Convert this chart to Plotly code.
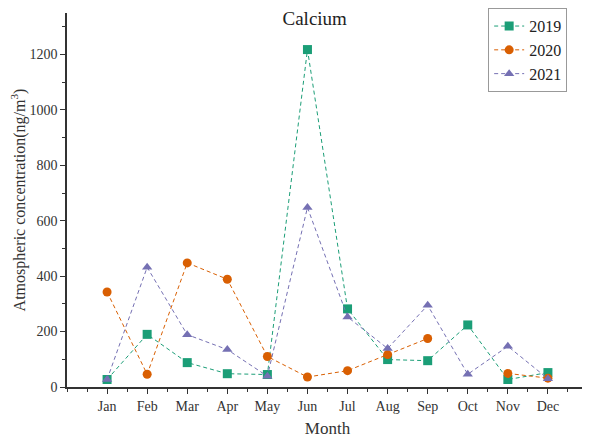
import plotly.graph_objects as go

months = ["Jan", "Feb", "Mar", "Apr", "May", "Jun", "Jul", "Aug", "Sep", "Oct", "Nov", "Dec"]
x_pos = list(range(1, 13))
y2019 = [27, 190, 88, 48, 45, 1218, 282, 99, 95, 224, 27, 52]
y2020 = [343, 46, 448, 389, 110, 36, 59, 117, 175, None, 49, 32]
y2021 = [27, 432, 189, 135, 39, 648, 253, 139, 295, 46, 147, 30]
y_ticks = [0, 200, 400, 600, 800, 1000, 1200]

series = [
    ("2019", y2019, "#1b9e77", "square"),
    ("2020", y2020, "#d95f02", "circle"),
    ("2021", y2021, "#7570b3", "triangle-up"),
]

fig = go.Figure()
for name, ys, col, sym in series:
    fig.add_trace(go.Scatter(
        x=x_pos, y=ys, name=name, mode="lines+markers",
        line=dict(color=col, width=1, dash="4px,3px"),
        marker=dict(symbol=sym, size=9, color=col),
        connectgaps=False,
    ))

font_family = "Liberation Serif"
fig.update_layout(
    width=582, height=434,
    margin=dict(l=59, r=2, t=5, b=55, autoexpand=False),
    paper_bgcolor="white", plot_bgcolor="white",
    font=dict(family=font_family, size=14, color="#333"),
    title=dict(text="Calcium", x=0.527, xanchor="center", y=0.977, yanchor="middle",
               font=dict(family=font_family, size=19, color="#222")),
    showlegend=True,
    legend=dict(x=0.96, xanchor="right", y=1.013, yanchor="top",
                bordercolor="#999", borderwidth=1, bgcolor="white",
                font=dict(family=font_family, size=16, color="#222"),
                itemwidth=30, tracegroupgap=0),
    xaxis=dict(
        range=[0, 13], tickmode="array", tickvals=x_pos, ticktext=months,
        showline=True, linecolor="#333", linewidth=1.5,
        ticks="outside", ticklen=5, tickwidth=1, tickcolor="#333",
        minor=dict(ticks="outside", ticklen=3, tickwidth=1, tickcolor="#333", dtick=0.5, tick0=0),
        showgrid=False, zeroline=False, automargin=False,
        title=dict(text="Month", font=dict(family=font_family, size=17, color="#333"), standoff=10),
        tickfont=dict(family=font_family, size=14, color="#333"),
    ),
    yaxis=dict(
        range=[0, 1350], tickmode="array", tickvals=y_ticks,
        showline=True, linecolor="#333", linewidth=1.5,
        ticks="outside", ticklen=5, tickwidth=1, tickcolor="#333",
        minor=dict(ticks="outside", ticklen=3, tickwidth=1, tickcolor="#333", dtick=100, tick0=0),
        showgrid=False, zeroline=False, automargin=False,
        title=dict(text="Atmospheric concentration(ng/m<sup>3</sup>)",
                   font=dict(family=font_family, size=16, color="#333"), standoff=8),
        tickfont=dict(family=font_family, size=14, color="#333"),
    ),
)

fig.write_html("out.html")
